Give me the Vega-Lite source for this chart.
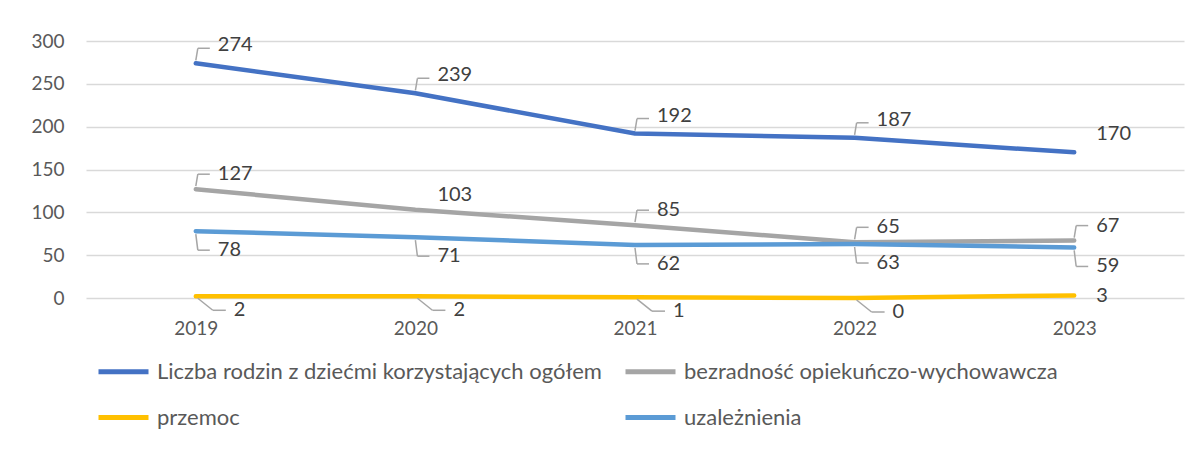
{
  "$schema": "https://vega.github.io/schema/vega-lite/v6.json",
  "width": 1098,
  "height": 257,
  "autosize": {"type": "none"},
  "padding": {"left": 86, "top": 41, "right": 14, "bottom": 156},
  "background": "white",
  "config": {"view": {"stroke": null}, "font": "Lato"},
  "data": {
    "values": [
      {"series": "Liczba rodzin z dziećmi korzystających ogółem", "year": "2019", "value": 274},
      {"series": "Liczba rodzin z dziećmi korzystających ogółem", "year": "2020", "value": 239},
      {"series": "Liczba rodzin z dziećmi korzystających ogółem", "year": "2021", "value": 192},
      {"series": "Liczba rodzin z dziećmi korzystających ogółem", "year": "2022", "value": 187},
      {"series": "Liczba rodzin z dziećmi korzystających ogółem", "year": "2023", "value": 170},
      {"series": "bezradność opiekuńczo-wychowawcza", "year": "2019", "value": 127},
      {"series": "bezradność opiekuńczo-wychowawcza", "year": "2020", "value": 103},
      {"series": "bezradność opiekuńczo-wychowawcza", "year": "2021", "value": 85},
      {"series": "bezradność opiekuńczo-wychowawcza", "year": "2022", "value": 65},
      {"series": "bezradność opiekuńczo-wychowawcza", "year": "2023", "value": 67},
      {"series": "przemoc", "year": "2019", "value": 2},
      {"series": "przemoc", "year": "2020", "value": 2},
      {"series": "przemoc", "year": "2021", "value": 1},
      {"series": "przemoc", "year": "2022", "value": 0},
      {"series": "przemoc", "year": "2023", "value": 3},
      {"series": "uzależnienia", "year": "2019", "value": 78},
      {"series": "uzależnienia", "year": "2020", "value": 71},
      {"series": "uzależnienia", "year": "2021", "value": 62},
      {"series": "uzależnienia", "year": "2022", "value": 63},
      {"series": "uzależnienia", "year": "2023", "value": 59}
    ]
  },
  "encoding": {
    "x": {
      "field": "year", "type": "ordinal",
      "scale": {"type": "point", "padding": 0.5},
      "axis": {"title": null, "labelAngle": 0, "domain": false, "ticks": false, "grid": false,
               "labelFontSize": 19, "labelColor": "#595959", "labelPadding": 21}
    },
    "y": {
      "field": "value", "type": "quantitative",
      "scale": {"domain": [0, 300], "nice": false},
      "axis": {"title": null, "values": [0, 50, 100, 150, 200, 250, 300], "domain": false, "ticks": false,
               "gridColor": "#D9D9D9", "gridWidth": 1.3, "labelFontSize": 19, "labelColor": "#595959", "labelPadding": 22}
    }
  },
  "layer": [
    {
      "mark": {"type": "line", "strokeWidth": 4.5, "strokeCap": "round", "strokeJoin": "round"},
      "encoding": {
        "color": {
          "field": "series", "type": "nominal",
          "scale": {
            "domain": ["Liczba rodzin z dziećmi korzystających ogółem", "bezradność opiekuńczo-wychowawcza", "przemoc", "uzależnienia"],
            "range": ["#4472C4", "#A5A5A5", "#FFC000", "#5B9BD5"]
          },
          "legend": {
            "title": null, "orient": "none", "legendX": 10, "legendY": 303, "columns": 2, "direction": "horizontal",
            "symbolType": "M-1,0H1", "symbolSize": 2500, "symbolStrokeWidth": 5,
            "labelFontSize": 22, "labelColor": "#595959", "labelLimit": 0,
            "columnPadding": 13, "rowPadding": 7, "labelOffset": 6
          }
        }
      }
    },
    {
      "transform": [{"filter": "(datum.series == 'Liczba rodzin z dziećmi korzystających ogółem' && datum.year != '2023') || (datum.series == 'bezradność opiekuńczo-wychowawcza' && datum.year != '2020')"}],
      "mark": {"type": "rule", "color": "#A6A6A6", "strokeWidth": 1.5, "yOffset": -3, "y2Offset": -15, "x2Offset": 2},
      "encoding": {"x2": {"field": "year"}, "y2": {"field": "value"}}
    },
    {
      "transform": [{"filter": "(datum.series == 'Liczba rodzin z dziećmi korzystających ogółem' && datum.year != '2023') || (datum.series == 'bezradność opiekuńczo-wychowawcza' && datum.year != '2020')"}],
      "mark": {"type": "rule", "color": "#A6A6A6", "strokeWidth": 1.5, "xOffset": 2, "x2Offset": 14, "yOffset": -15, "y2Offset": -15},
      "encoding": {"x2": {"field": "year"}, "y2": {"field": "value"}}
    },
    {
      "transform": [{"filter": "datum.series == 'uzależnienia'"}],
      "mark": {"type": "rule", "color": "#A6A6A6", "strokeWidth": 1.5, "yOffset": 3, "y2Offset": 19, "x2Offset": 2},
      "encoding": {"x2": {"field": "year"}, "y2": {"field": "value"}}
    },
    {
      "transform": [{"filter": "datum.series == 'uzależnienia'"}],
      "mark": {"type": "rule", "color": "#A6A6A6", "strokeWidth": 1.5, "xOffset": 2, "x2Offset": 14, "yOffset": 19, "y2Offset": 19},
      "encoding": {"x2": {"field": "year"}, "y2": {"field": "value"}}
    },
    {
      "transform": [{"filter": "datum.series == 'przemoc' && datum.year != '2023'"}],
      "mark": {"type": "rule", "color": "#A6A6A6", "strokeWidth": 1.5, "xOffset": 2, "yOffset": 2, "x2Offset": 17, "y2Offset": 14},
      "encoding": {"x2": {"field": "year"}, "y2": {"field": "value"}}
    },
    {
      "transform": [{"filter": "datum.series == 'przemoc' && datum.year != '2023'"}],
      "mark": {"type": "rule", "color": "#A6A6A6", "strokeWidth": 1.5, "xOffset": 17, "x2Offset": 30, "yOffset": 14, "y2Offset": 14},
      "encoding": {"x2": {"field": "year"}, "y2": {"field": "value"}}
    },
    {
      "transform": [{"filter": "datum.series == 'Liczba rodzin z dziećmi korzystających ogółem'"}],
      "mark": {"type": "text", "align": "left", "baseline": "middle", "dx": 22, "dy": -18, "fontSize": 20, "color": "#404040"},
      "encoding": {"text": {"field": "value", "type": "quantitative"}}
    },
    {
      "transform": [{"filter": "datum.series == 'bezradność opiekuńczo-wychowawcza'"}],
      "mark": {"type": "text", "align": "left", "baseline": "middle", "dx": 22, "dy": -15, "fontSize": 20, "color": "#404040"},
      "encoding": {"text": {"field": "value", "type": "quantitative"}}
    },
    {
      "transform": [{"filter": "datum.series == 'uzależnienia'"}],
      "mark": {"type": "text", "align": "left", "baseline": "middle", "dx": 22, "dy": 19, "fontSize": 20, "color": "#404040"},
      "encoding": {"text": {"field": "value", "type": "quantitative"}}
    },
    {
      "transform": [{"filter": "datum.series == 'przemoc' && datum.year != '2023'"}],
      "mark": {"type": "text", "align": "left", "baseline": "middle", "dx": 38, "dy": 14, "fontSize": 20, "color": "#404040"},
      "encoding": {"text": {"field": "value", "type": "quantitative"}}
    },
    {
      "transform": [{"filter": "datum.series == 'przemoc' && datum.year == '2023'"}],
      "mark": {"type": "text", "align": "left", "baseline": "middle", "dx": 22, "dy": 1, "fontSize": 20, "color": "#404040"},
      "encoding": {"text": {"field": "value", "type": "quantitative"}}
    }
  ]
}
